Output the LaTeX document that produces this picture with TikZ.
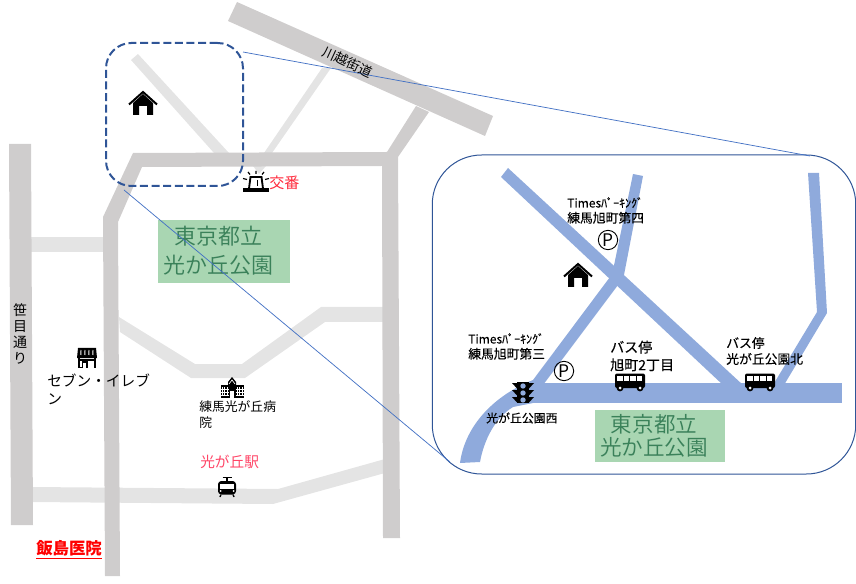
\documentclass[tikz,border=0pt]{standalone}
\usepackage{fontspec}
\usepackage[outline]{contour}
\contourlength{.8pt}
\setmainfont{Noto Sans CJK JP}
\newfontfamily\heavy[FakeBold=0.25]{Noto Sans CJK JP}
\definecolor{roadgray}{HTML}{CFCDCD}
\definecolor{roadlight}{HTML}{E4E4E4}
\definecolor{roadblue}{HTML}{8FAADC}
\definecolor{frameblue}{HTML}{2F5597}
\definecolor{linkblue}{HTML}{4472C4}
\definecolor{parkfill}{HTML}{A9D6B2}
\definecolor{parktext}{HTML}{3A8259}
\definecolor{parkglow}{HTML}{D6EDDA}
\definecolor{alert}{HTML}{FF2A3C}
\definecolor{alertpink}{HTML}{FF4466}
\newcommand{\parkline}[1]{\contour{parkglow}{#1}}
\tikzset{
  gray road/.style={fill=roadgray,draw=none},
  light road/.style={fill=roadlight,draw=none},
  blue road/.style={fill=roadblue,draw=none},
  focusbox/.style={draw=frameblue,line width=1.5pt,dash pattern=on 6pt off 2.7pt,rounded corners=19pt,inner sep=0,minimum width=102.75pt,minimum height=107.25pt},
  insetbox/.style={draw=frameblue,line width=.75pt,rounded corners=37pt,inner sep=0,minimum width=317.6pt,minimum height=239.25pt},
  link/.style={draw=linkblue,line width=.55pt},
  lab/.style={inner sep=0,anchor=west,align=left,text=black},
  heavylab/.style={lab,font=\heavy},
  parkbox/.style={fill=parkfill,draw=none,inner sep=0},
  parkname/.style={inner sep=0,align=center,text=parktext,font=\fontsize{16.5}{21}\selectfont},
  parking/.style={draw=black,circle,line width=.7pt,inner sep=0,minimum size=14.5pt,font=\fontsize{13}{13}\selectfont},
  homeicon/.pic={
    \fill[black] (-10,0)--(0,-9)--(10,0)--(10,12)--(4,12)--(4,3)--(-4,3)--(-4,12)--(-10,12)--cycle;
    \draw[black,line width=1.5pt,line join=miter] (-14,1.5)--(0,-11)--(14,1.5);
  },
  busicon/.pic={
    \fill[black,rounded corners=1.5pt] (-15,-8.5) rectangle (15,6);
    \foreach \a/\b in {-13/-7.5,-6.5/-1,0/5.5,6.5/12}{\fill[white] (\a,-6.5) rectangle (\b,-1.5);}
    \foreach \a in {-10,10}{\fill[black] (\a,6) circle[radius=3.4];\fill[white] (\a,6) circle[radius=1.5];}
  },
  signalicon/.pic={
    \fill[black] (-6,-11) rectangle (6,10);
    \foreach \b in {-7,0,7}{
      \fill[black] (-11,\b-3)--(-6,\b-3)--(-6,\b+2.5)--cycle;
      \fill[black] (11,\b-3)--(6,\b-3)--(6,\b+2.5)--cycle;
      \fill[roadblue] (0,\b) circle[radius=2.7];}
  },
  policeicon/.pic={
    \fill[black] (-13,6.5) rectangle (13,10.5);
    \draw[black,line width=1.4pt] (-7,6.5)--(-5.5,-5)--(5.5,-5)--(7,6.5);
    \draw[black,line width=.9pt] (1.5,-2)--(1.5,4);
    \draw[black,line width=.9pt] (-13,-3.5)--(-9,-2.5) (13,-3.5)--(9,-2.5) (-8,-10)--(-6,-7.5) (8,-10)--(6,-7.5) (0,-11)--(0,-8);
  },
  storeicon/.pic={
    \fill[black] (-9,-10)--(9,-10)--(10,0)--(-10,0)--cycle;
    \foreach \a in {-5.5,-1.5,2.5,6.5}{\draw[white,line width=.7pt] (\a-.5,-8)--(\a-.7,-3);}
    \draw[black,line width=1.2pt] (-8,0)--(-8,10) (8,0)--(8,10);
    \draw[black,line width=1pt] (-8,2)--(8,2);
    \draw[black,line width=1.1pt] (-4.5,10)--(-4.5,4)--(0,4)--(0,10);
    \fill[black] (-8,9) rectangle (-4.5,10);
  },
  hospitalicon/.pic={
    \fill[black] (-11.5,-2) rectangle (11.5,10.5);
    \fill[black] (-4,-2)--(-4,-5)--(0,-10)--(4,-5)--(4,-2)--cycle;
    \draw[white,line width=.5pt] (-3,-3)--(0,-7)--(3,-3);
    \foreach \a in {-10,-7.5,-5,5,7.5,10}{\draw[white,line width=.5pt] (\a,0)--(\a,9);}
    \foreach \b in {2,5,8}{\draw[white,line width=.5pt] (-11.5,\b)--(-3.5,\b) (3.5,\b)--(11.5,\b);}
    \fill[white] (-1.7,4) rectangle (1.7,10.5);
  },
  trainicon/.pic={
    \fill[black,rounded corners=2.5pt] (-9,-6) rectangle (9,7.5);
    \fill[white] (-7,-3.5) rectangle (7,1.5);
    \fill[white] (-6.5,4) circle[radius=1];
    \fill[white] (6.5,4) circle[radius=1];
    \draw[black,line width=.8pt] (-4.5,-9.5)--(4.5,-9.5) (0,-9.5)--(0,-6);
    \draw[black,line width=1pt] (-6,7.5)--(-7,10) (6,7.5)--(7,10);
  },
}
\begin{document}
\begin{tikzpicture}[x=.75pt,y=-.75pt]
\useasboundingbox (0,0) rectangle (856,584);
% light roads
\fill[light road] (131,60)--(138,54)--(229,153)--(214,153)--cycle;
\fill[light road] (264,153)--(322,68)--(331,68)--(272,153)--cycle;
\fill[light road] (253,166)--(266,166)--(259,174)--cycle;
\fill[light road] (30,237) rectangle (106,252);
\fill[light road] (119,317)--(120,332)--(191,378)--(245,378)--(325,322)--(384,322)--(384,307)--(321,307)--(242,364)--(195,364)--cycle;
\fill[light road] (30,487)--(278,489)--(385,459)--(385,473)--(273,504)--(30,502)--cycle;
% grey roads
\fill[gray road] (237,2)--(228,21)--(485,136)--(493,116)--cycle;
\fill[gray road] (133,153)--(387,152)--(416,106)--(429,112)--(398,157)--(400,538)--(383,538)--(382,166)--(142,167)--(118,222)--(120,576)--(105,576)--(103,217)--cycle;
\fill[gray road] (9,144)--(31,144)--(33,525)--(11,525)--cycle;
% park
\fill[parkbox] (158,220) rectangle (290,283);
\node[parkname] (parkA) at (218,251) {\parkline{東京都立}\\[1pt]\parkline{光か丘公園}};
% inset roads
\fill[blue road] (508,168)--(501,177)--(723,385)--(743,385)--cycle;
\fill[blue road] (633,174)--(643,176)--(624,275)--(612,275)--cycle;
\fill[blue road] (610,277)--(618,285)--(543,385)--(533,403)--(513,407) .. controls (495,418) and (484,440) .. (480,462)--(460,463) .. controls (465,425) and (495,395) .. (533,380)--cycle;
\fill[blue road] (530,383) rectangle (842,403);
\fill[blue road] (808,173)--(819,173)--(827,313)--(784,385)--(773,385)--(817,312)--cycle;
\fill[parkbox] (595,410) rectangle (725,462);
\node[parkname,font=\fontsize{16.2}{17}\selectfont] (parkB) at (654,436) {\parkline{東京都立}\\\parkline{光か丘公園}};
% frames and links
\node[focusbox] (focus) at (174.5,114.5) {};
\node[insetbox] (inset) at (644,314.5) {};
\coordinate (focusTop) at (243,52);
\coordinate (focusLow) at (124,190);
\coordinate (insetTop) at (810,156);
\coordinate (insetLow) at (450,462);
\draw[link] (focusTop)--(insetTop);
\draw[link] (focusLow)--(insetLow);
% icons
\pic at (143,103) {homeicon};
\pic at (578,275) {homeicon};
\pic at (630,382) {busicon};
\pic at (760,382) {busicon};
\pic at (523,393) {signalicon};
\pic at (256,182) {policeicon};
\pic at (87,358) {storeicon};
\pic at (232,387) {hospitalicon};
\pic at (227,487) {trainicon};
\node[parking] (parkingA) at (608,240) {P};
\node[parking] (parkingB) at (564,371) {P};
% labels
\node[inner sep=0,rotate=-25,font=\fontsize{10}{12}\selectfont] (kawagoe) at (348,62) {川越街道};
\node[inner sep=0,align=center,font=\fontsize{10.5}{11.8}\selectfont] (sasame) at (20,334) {笹\\目\\通\\り};
\node[lab,font=\fontsize{11}{13}\selectfont] (seven) at (47,389.5) {セブン・イレブ\\ン};
\node[lab,font=\fontsize{9.6}{12}\selectfont] (hospital) at (199,415) {練馬光が丘病\\院};
\node[lab,text=alertpink,font=\fontsize{11}{13}\selectfont] (station) at (200,462) {光が丘駅};
\node[lab,text=alert,font=\fontsize{11.3}{13}\selectfont] (koban) at (269,183) {交番};
\node[lab,text=red,font=\bfseries\fontsize{12.3}{14}\selectfont] (iijima) at (36,550) {\underline{飯島医院}};
\node[heavylab,font=\heavy\fontsize{9}{11.4}\selectfont] (timesA) at (567,210.5) {Timesﾊﾟｰｷﾝｸﾞ\\\fontsize{9.6}{11.4}\selectfont 練馬旭町第四};
\node[heavylab,font=\heavy\fontsize{9}{11.4}\selectfont] (timesB) at (468,346.5) {Timesﾊﾟｰｷﾝｸﾞ\\\fontsize{9.6}{11.4}\selectfont 練馬旭町第三};
\node[heavylab,font=\heavy\fontsize{10.5}{13.3}\selectfont] (busA) at (610,356) {バス停\\旭町2丁目};
\node[heavylab,font=\heavy\fontsize{9.6}{12}\selectfont] (busB) at (726,351) {バス停\\光が丘公園北};
\node[heavylab,font=\heavy\fontsize{8.9}{11}\selectfont] (west) at (486,418) {光が丘公園西};
\end{tikzpicture}
\end{document}
